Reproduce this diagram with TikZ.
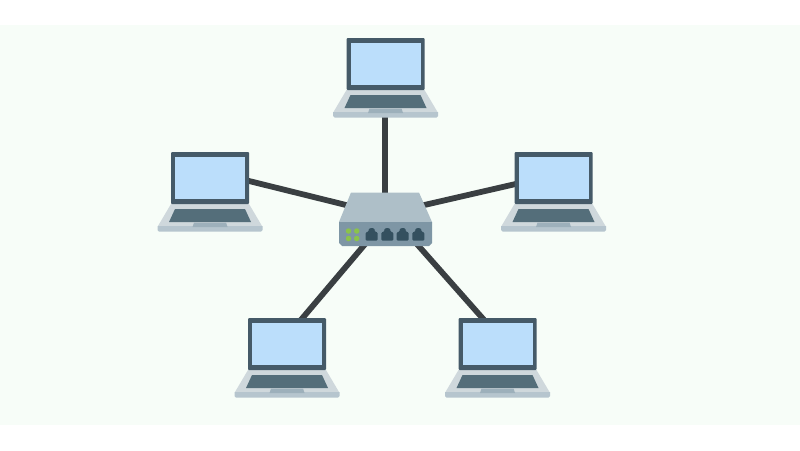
\documentclass[tikz,border=0pt]{standalone}
\definecolor{band}{HTML}{F7FDF8}
\definecolor{wire}{HTML}{3A3F42}
\definecolor{frameC}{HTML}{455A68}
\definecolor{screenC}{HTML}{BBDEFB}
\definecolor{deckC}{HTML}{CFD8DC}
\definecolor{lipC}{HTML}{B6C5CE}
\definecolor{keysC}{HTML}{546E7A}
\definecolor{notchC}{HTML}{9DB0BB}
\definecolor{hubTop}{HTML}{AEBFC8}
\definecolor{hubFront}{HTML}{7E96A5}
\definecolor{portC}{HTML}{34505F}
\definecolor{ledC}{HTML}{8BC34A}
\tikzset{
  wirelink/.style={draw=wire,line width=5.8pt},
  laptop/.pic={
    \fill[deckC] (-39,52) -- (39,52) -- (52,74) -- (-52,74) -- cycle;
    \fill[lipC] (-52.5,74) -- (52.5,74) -- (52.5,78) -- (51,79.5) -- (-51,79.5) -- (-52.5,78) -- cycle;
    \fill[keysC] (-35,57) -- (35,57) -- (41,70) -- (-41,70) -- cycle;
    \fill[notchC] (-16,70.5) -- (16,70.5) -- (17.5,75) -- (-17.5,75) -- cycle;
    \fill[frameC,rounded corners=1pt] (-39,0) -- (39,0) -- (39,52) -- (-39,52) -- cycle;
    \fill[screenC] (-35,4.5) rectangle (35,47);
  },
  port/.pic={
    \fill[portC,rounded corners=1pt] (-6,12.5) -- (-6,4.5) -- (-3,3.5) -- (-3,.7) -- (0,0) -- (3,.7) -- (3,3.5) -- (6,4.5) -- (6,12.5) -- cycle;
  },
  led/.style={fill=ledC,circle,inner sep=0pt,minimum size=5.5pt}
}
\begin{document}
\begin{tikzpicture}[x=1pt,y=-1pt]
\useasboundingbox (0,0) rectangle (800,450);
\fill[white] (0,0) rectangle (800,450);
\fill[band] (0,25) rectangle (800,425);
% connector ends
\coordinate (hubN) at (385,200);
\coordinate (hubW) at (350,206);
\coordinate (hubE) at (420,206);
\coordinate (hubSW) at (366,243);
\coordinate (hubSE) at (416,243);
\coordinate (lapN) at (385,112);
\coordinate (lapW) at (245,180);
\coordinate (lapE) at (520,183);
\coordinate (lapSW) at (300,321);
\coordinate (lapSE) at (485,321);
\draw[wirelink] (hubN) -- (lapN);
\draw[wirelink] (hubW) -- (lapW);
\draw[wirelink] (hubE) -- (lapE);
\draw[wirelink] (hubSW) -- (lapSW);
\draw[wirelink] (hubSE) -- (lapSE);
% laptops
\pic at (385.5,38) {laptop};
\pic at (210,152) {laptop};
\pic at (553.5,152) {laptop};
\pic at (287,318) {laptop};
\pic at (497.5,318) {laptop};
% switch
\fill[hubTop] (351,192.5) -- (419,192.5) -- (432,222) -- (339,222) -- cycle;
\fill[hubFront] (339,222) -- (432,222) -- (432,243) -- (429,246) -- (342,246) -- (339,243) -- cycle;
\node[led] (l1) at (348.5,231) {};
\node[led] (l2) at (356.7,231) {};
\node[led] (l3) at (348.5,238.5) {};
\node[led] (l4) at (356.7,238.5) {};
\pic at (371.7,228) {port};
\pic at (387.3,228) {port};
\pic at (402.7,228) {port};
\pic at (418.3,228) {port};
\end{tikzpicture}
\end{document}
